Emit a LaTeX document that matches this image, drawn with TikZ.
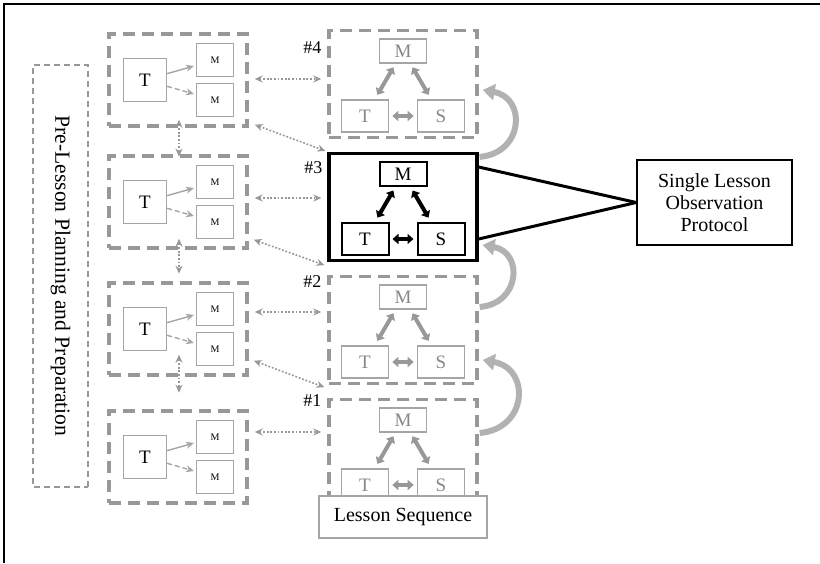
\documentclass[tikz,border=0pt]{standalone}
\usepackage{fontspec}
\setmainfont{Liberation Serif}
\usepackage{tikz}
\usetikzlibrary{shapes,arrows.meta,positioning,calc}

\definecolor{dgray}{RGB}{152,152,152}
\definecolor{lgray}{RGB}{165,165,165}
\definecolor{tgray}{RGB}{135,135,135}
\definecolor{cgray}{RGB}{178,178,178}

\tikzstyle{plan} = [draw=dgray, line width=1.7pt, dash pattern=on 6pt off 3.5pt,
    minimum width=69pt, minimum height=46pt, inner sep=0pt]
\tikzstyle{lesson} = [plan, minimum width=74pt, minimum height=53.5pt]
\tikzstyle{curlesson} = [draw=black, line width=1.6pt, minimum width=74pt,
    minimum height=53.5pt, inner sep=0pt]
\tikzstyle{tbig} = [draw=lgray, line width=0.6pt, minimum width=21.5pt,
    minimum height=21.5pt, inner sep=0pt, font=\fontsize{9.5}{10}\selectfont]
\tikzstyle{msmall} = [draw=lgray, line width=0.6pt, minimum width=18.5pt,
    minimum height=16.5pt, inner sep=0pt, font=\fontsize{5}{6}\selectfont]
\tikzstyle{role} = [draw=lgray, text=tgray, line width=0.8pt, minimum width=23.5pt,
    minimum height=16pt, inner sep=0pt, font=\fontsize{9.5}{10}\selectfont]
\tikzstyle{mrole} = [role, minimum height=12pt]
\tikzstyle{blackrole} = [role, draw=black, text=black, line width=1pt]
\tikzstyle{fat} = [dgray, line width=2pt, shorten <=2pt, shorten >=2.5pt,
    {Triangle[length=3pt,width=5pt]}-{Triangle[length=3pt,width=5pt]}]
\tikzstyle{link} = [dgray, line width=0.8pt, dash pattern=on 0.9pt off 0.9pt,
    {Stealth[length=4pt,width=3.5pt]}-{Stealth[length=4pt,width=3.5pt]}]
\tikzstyle{plain} = [lgray, line width=0.7pt, shorten >=1pt, -{Stealth[length=4pt,width=3.5pt]}]
\tikzstyle{looparrow} = [cgray, line width=3pt, -{Triangle[length=6pt,width=8pt]}]
\tikzstyle{lbl} = [font=\fontsize{9}{10}\selectfont]

\begin{document}
\begin{tikzpicture}[x=0.5pt, y=-0.5pt]
  \useasboundingbox (0,0) rectangle (820,563);
  \draw [line width=0.8pt] (4,563) -- (4,4) -- (820,4);

  % planning column
  \node [draw=dgray, line width=0.6pt, dash pattern=on 3pt off 2pt, rotate=-90,
    minimum width=211pt, minimum height=27.5pt, font=\fontsize{10.8}{12}\selectfont] (pre)
    at (60.5,276) {Pre-Lesson Planning and Preparation};

  \node [plan] (p1) at (178,80) {};
  \node [plan, below of=p1, node distance=61pt] (p2) {};
  \node [plan, below of=p2, node distance=63.5pt] (p3) {};
  \node [plan, below of=p3, node distance=64pt] (p4) {};

  \node [tbig, left of=p1, node distance=16.5pt] (t1) {T};
  \node [msmall, right of=t1, node distance=35pt, yshift=10pt] (m1a) {M};
  \node [msmall, right of=t1, node distance=35pt, yshift=-10pt] (m1b) {M};
  \node [tbig, left of=p2, node distance=16.5pt] (t2) {T};
  \node [msmall, right of=t2, node distance=35pt, yshift=10pt] (m2a) {M};
  \node [msmall, right of=t2, node distance=35pt, yshift=-10pt] (m2b) {M};
  \node [tbig, left of=p3, node distance=16.5pt] (t3) {T};
  \node [msmall, right of=t3, node distance=35pt, yshift=10pt] (m3a) {M};
  \node [msmall, right of=t3, node distance=35pt, yshift=-10pt] (m3b) {M};
  \node [tbig, left of=p4, node distance=16.5pt] (t4) {T};
  \node [msmall, right of=t4, node distance=35pt, yshift=10pt] (m4a) {M};
  \node [msmall, right of=t4, node distance=35pt, yshift=-10pt] (m4b) {M};

  \draw [plain] (t1) -- (m1a);
  \draw [plain, dash pattern=on 2.5pt off 1.5pt] (t1) -- (m1b);
  \draw [plain] (t2) -- (m2a);
  \draw [plain, dash pattern=on 2.5pt off 1.5pt] (t2) -- (m2b);
  \draw [plain] (t3) -- (m3a);
  \draw [plain, dash pattern=on 2.5pt off 1.5pt] (t3) -- (m3b);
  \draw [plain] (t4) -- (m4a);
  \draw [plain, dash pattern=on 2.5pt off 1.5pt] (t4) -- (m4b);

  % lesson column
  \node [lesson] (r4) at (403,84) {};
  \node [curlesson, below of=r4, node distance=61.5pt] (r3) {};
  \node [lesson, below of=r3, node distance=61.5pt] (r2) {};
  \node [lesson, below of=r2, node distance=61.5pt] (r1) {};

  \node [lbl] (n4) at ($(r4.north west)+(-15,19)$) {\#4};
  \node [lbl] (n3) at ($(r3.north west)+(-14,16)$) {\#3};
  \node [lbl] (n2) at ($(r2.north west)+(-15,7)$) {\#2};
  \node [lbl] (n1) at ($(r1.north west)+(-15,3)$) {\#1};

  \node [mrole, above of=r4, node distance=16.5pt] (rm4) {M};
  \node [role, below of=r4, node distance=16pt, xshift=-19pt] (rt4) {T};
  \node [role, below of=r4, node distance=16pt, xshift=19pt] (rs4) {S};
  \node [blackrole, minimum height=12pt, above of=r3, node distance=16.5pt] (rm3) {M};
  \node [blackrole, below of=r3, node distance=16pt, xshift=-19pt] (rt3) {T};
  \node [blackrole, below of=r3, node distance=16pt, xshift=19pt] (rs3) {S};
  \node [mrole, above of=r2, node distance=16.5pt] (rm2) {M};
  \node [role, below of=r2, node distance=16pt, xshift=-19pt] (rt2) {T};
  \node [role, below of=r2, node distance=16pt, xshift=19pt] (rs2) {S};
  \node [mrole, above of=r1, node distance=16.5pt] (rm1) {M};
  \node [role, below of=r1, node distance=16pt, xshift=-19pt] (rt1) {T};
  \node [role, below of=r1, node distance=16pt, xshift=19pt] (rs1) {S};

  \draw [fat] (rm4) -- (rt4);
  \draw [fat] (rm4) -- (rs4);
  \draw [fat, shorten <=1.5pt, shorten >=1.5pt] (rt4) -- (rs4);
  \draw [fat, black] (rm3) -- (rt3);
  \draw [fat, black] (rm3) -- (rs3);
  \draw [fat, black, shorten <=1.5pt, shorten >=1.5pt] (rt3) -- (rs3);
  \draw [fat] (rm2) -- (rt2);
  \draw [fat] (rm2) -- (rs2);
  \draw [fat, shorten <=1.5pt, shorten >=1.5pt] (rt2) -- (rs2);
  \draw [fat] (rm1) -- (rt1);
  \draw [fat] (rm1) -- (rs1);
  \draw [fat, shorten <=1.5pt, shorten >=1.5pt] (rt1) -- (rs1);

  \node [draw=lgray, fill=white, line width=0.7pt, minimum width=84pt, minimum height=21pt,
    font=\fontsize{10}{12}\selectfont, below of=r1, node distance=32pt] (seq) {Lesson Sequence};

  % links between the columns
  \draw [link] ($(p1.east)+(6,-1)$) -- ($(r4.west)+(-6,-5)$);
  \draw [link] ($(p1.south east)+(6,-3)$) -- ($(r3.north west)+(-2,-1)$);
  \draw [link] ($(p2.east)+(6,-4)$) -- ($(r3.west)+(-6,-9)$);
  \draw [link] ($(p2.south east)+(5,-10)$) -- ($(r3.south west)+(-3,3)$);
  \draw [link] ($(p3.east)+(6,-17)$) -- ($(r2.west)+(-6,-18)$);
  \draw [link] ($(p3.south east)+(5,-16)$) -- ($(r2.south west)+(-3,2)$);
  \draw [link] ($(p4.east)+(6,-25)$) -- ($(r1.west)+(-6,-21)$);
  \draw [link] ($(p1.south)+(1,-8)$) -- ($(p1.south)+(1,29)$);
  \draw [link] ($(p2.south)+(1,-11)$) -- ($(p2.south)+(1,24)$);
  \draw [link] ($(p3.south)+(1,-22)$) -- ($(p3.south)+(1,16)$);

  % lesson to lesson
  \draw [looparrow] ($(r3.north east)+(1,5)$) to [out=5, in=-10, looseness=1.7] ($(r4.east)+(4,6)$);
  \draw [looparrow] ($(r2.east)+(1,-23)$) to [out=5, in=-10, looseness=1.7] ($(r3.east)+(4,38)$);
  \draw [looparrow] ($(r1.east)+(1,-20)$) to [out=5, in=-10, looseness=1.7] ($(r2.east)+(4,30)$);

  % protocol
  \node [draw, line width=0.8pt, minimum width=77.5pt, minimum height=42.5pt, align=center,
    font=\fontsize{10}{11}\selectfont] (obs) at (714.5,202.5)
    {Single Lesson\\Observation\\Protocol};
  \draw [line width=1.5pt] ([yshift=20pt]r3.east) -- (obs.west);
  \draw [line width=1.5pt] ([yshift=-16pt]r3.east) -- (obs.west);
\end{tikzpicture}
\end{document}
